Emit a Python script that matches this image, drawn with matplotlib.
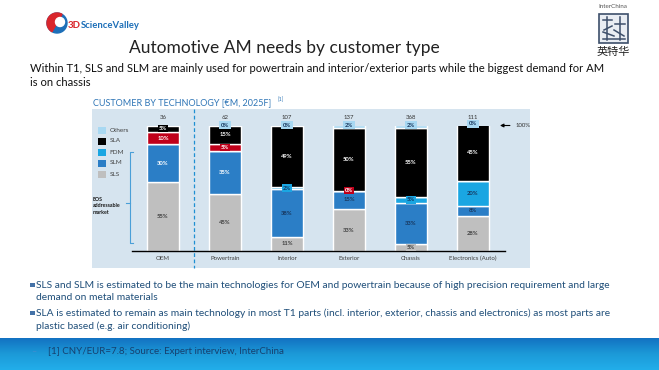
#!/usr/bin/env python3
"""Slide recreation: automotive AM demand split by customer type and technology."""

import numpy as np
import matplotlib
matplotlib.use('Agg')
import matplotlib.pyplot as plt
from matplotlib.patches import Rectangle, Circle, Wedge
from matplotlib.colors import LinearSegmentedColormap

# ---- data (share of each technology, %) ----
categories = ['OEM', 'Powertrain', 'Interior', 'Exterior', 'Chassis', 'Electronics (Auto)']
totals = [36, 62, 107, 137, 368, 111]          # market size, EUR m
sls = [55, 45, 11, 33, 5, 28]
slm = [30, 35, 38, 15, 33, 8]
fdm = [0, 0, 2, 0, 5, 20]
red_tech = [10, 5, 0, 0, 0, 0]                 # red segment, not in legend
sla = [5, 15, 49, 50, 55, 45]
others = [0, 0, 0, 2, 2, 0]
legend_labels = ['Others', 'SLA', 'FDM', 'SLM', 'SLS']

W, H = 659, 370
FONT = ['Lato', 'DejaVu Sans']
plt.rcParams['font.family'] = FONT

C_SLS = '#bfbfbf'
C_SLM = '#2b7ec6'
C_FDM = '#1aa6e2'
C_RED = '#c0001a'
C_SLA = '#000000'
C_OTH = '#a8d8f2'
NAVY = '#17365d'
TXT_BLUE = '#1f4e79'

fig = plt.figure(figsize=(W / 100, H / 100), dpi=100)
bg = fig.add_axes([0, 0, 1, 1])
bg.set_xlim(0, W)
bg.set_ylim(H, 0)
bg.axis('off')

# ---- header: logos and titles ----
bg.add_patch(Circle((57, 23), 10, color='#1d6fb8'))
bg.add_patch(Wedge((57, 23), 10, 120, 300, color='#d9262c'))
bg.add_patch(Circle((60, 22), 4.5, color='white'))
bg.text(67.5, 25, '3D', color='#d9262c', fontsize=7.0, fontweight='bold', va='center')
bg.text(80.5, 25, 'ScienceValley', color='#1d6fb8', fontsize=6.8, fontweight='bold', va='center')

bg.text(613, 6, 'InterChina', fontsize=4.5, color='#555555', ha='center', va='center')
bg.add_patch(Rectangle((599, 14), 29, 29, facecolor='#e9edf3', edgecolor='#3d4f6b', lw=1.2))
for xs, ys in [([603, 612], [20, 20]), ([607, 607], [17, 40]), ([615, 625], [24, 24]),
               ([620, 620], [17, 40]), ([603, 614], [32, 36]), ([603, 625], [39, 39]),
               ([614, 624], [30, 36]), ([612, 604], [26, 30])]:
    bg.plot(xs, ys, color='#3d4f6b', lw=1.1)
bg.text(613, 52, '英特华', fontsize=8, color='#222222', ha='center', va='center',
        family=['Noto Sans CJK SC', 'DejaVu Sans'])

bg.text(284, 48, 'Automotive AM needs by customer type', fontsize=12.5, color='#222222',
        ha='center', va='center')
bg.text(30, 68, 'Within T1, SLS and SLM are mainly used for powertrain and interior/exterior parts '
        'while the biggest demand for AM', fontsize=8.1, color='#111111', va='center')
bg.text(30, 83, 'is on chassis', fontsize=8.1, color='#111111', va='center')

# ---- chart panel ----
bg.add_patch(Rectangle((92, 109), 438, 159, facecolor='#d6e4ef', edgecolor='none'))
bg.text(93, 103, 'CUSTOMER BY TECHNOLOGY [€M, 2025F]', fontsize=6.5, color='#2e75b6', va='center')
bg.text(277, 100, '[1]', fontsize=3.8, color='#2e75b6', va='center')

# legend
for i, (lab, col) in enumerate(zip(legend_labels, [C_OTH, C_SLA, C_FDM, C_SLM, C_SLS])):
    y = 130 + i * 11
    bg.add_patch(Rectangle((97.5, y - 3.5), 8.5, 7, facecolor=col, edgecolor='none'))
    bg.text(109.5, y, lab, fontsize=4.6, color='#404040', va='center')

# EOS addressable market bracket
br = '#4a9fd8'
bg.plot([133, 130, 130, 133], [152, 152, 243, 243], color=br, lw=0.8)
bg.plot([126, 130], [203, 203], color=br, lw=0.8)
bg.text(93, 197, 'EOS\naddressable\nmarket', fontsize=3.8, fontweight='bold', color='#1a1a1a',
        va='top', linespacing=1.35)

# dashed separator between OEM and T1 parts
bg.plot([194, 194], [109, 268], color='#1e8fd2', lw=0.9, ls=(0, (3, 2)))

# ---- bullets ----
bullets = [
    ['SLS and SLM is estimated to be the main technologies for OEM and powertrain because of '
     'high precision requirement and large', 'demand on metal materials'],
    ['SLA is estimated to remain as main technology in most T1 parts (incl. interior, exterior, '
     'chassis and electronics) as most parts are', 'plastic based (e.g. air conditioning)'],
]
for i, lines in enumerate(bullets):
    y0 = 285 + i * 28
    bg.add_patch(Rectangle((30, y0 - 2.3), 4.5, 4.5, facecolor='#4472a8', edgecolor='none'))
    bg.text(36, y0, lines[0], fontsize=7.4, color=TXT_BLUE, va='center')
    bg.text(36, y0 + 13, lines[1], fontsize=7.4, color=TXT_BLUE, va='center')

# ---- footer band ----
grad = np.linspace(0, 1, 64).reshape(-1, 1)
cmap = LinearSegmentedColormap.from_list('band', ['#1372c2', '#1c9ad8', '#22aeea'])
bg.imshow(grad, cmap=cmap, extent=(0, W, 370, 338), aspect='auto', zorder=0)
bg.set_xlim(0, W)
bg.set_ylim(H, 0)
bg.text(31, 352, '–', fontsize=6.5, color='#3f8fd0', va='center')
bg.text(48, 352, '[1] CNY/EUR=7.8; Source: Expert interview, InterChina', fontsize=7.0,
        color='#16406e', va='center')

# ---- stacked bars ----
ax = fig.add_axes([132 / W, 1 - 250.7 / H, (505 - 132) / W, (250.7 - 125.5) / H])
ax.set_facecolor('none')
ax.set_xlim(-0.5, 5.516)
ax.set_ylim(0, 100)
x = np.arange(len(categories))
bw = 0.53

series = [
    ('SLS', sls, C_SLS, '#404040'),
    ('SLM', slm, C_SLM, None),
    ('FDM', fdm, C_FDM, NAVY),
    ('RED', red_tech, C_RED, 'white'),
    ('SLA', sla, C_SLA, 'white'),
    ('Others', others, C_OTH, NAVY),
]
slm_white = [True, True, False, False, False, False]
zero_labels = {('RED', 3), ('Others', 1), ('Others', 2), ('Others', 5)}

bottom = np.zeros(len(categories))
for name, vals, col, tcol in series:
    vals = np.array(vals, dtype=float)
    ax.bar(x, vals, bw, bottom=bottom, color=col, edgecolor='white', linewidth=1.0, zorder=2)
    for i, v in enumerate(vals):
        if v <= 0 and (name, i) not in zero_labels:
            continue
        c = tcol if tcol else ('white' if slm_white[i] else NAVY)
        yc = bottom[i] + v / 2
        box = None
        if name == 'Others':
            yc = bottom[i] + v + 0.3
            box = dict(boxstyle='square,pad=0.25', facecolor=C_OTH, edgecolor='none')
        elif v < 6:
            box = dict(boxstyle='square,pad=0.2', facecolor=col, edgecolor='none')
        ax.text(x[i], yc, f'{v:.0f}%', ha='center', va='center', fontsize=4.2, color=c,
                fontweight='bold', bbox=box, zorder=4, clip_on=False)
    bottom += vals

for i, t in enumerate(totals):
    ax.text(x[i], 106, str(t), ha='center', va='center', fontsize=4.3, color='#333333', clip_on=False)

ax.annotate('', xy=(5.39, 100), xytext=(5.64, 100), annotation_clip=False,
            arrowprops=dict(arrowstyle='-|>', color='black', lw=0.8, mutation_scale=5))
ax.text(5.68, 100, '100%', ha='left', va='center', fontsize=4.3, color='#333333', clip_on=False)

for s in ['top', 'right', 'left']:
    ax.spines[s].set_visible(False)
ax.spines['bottom'].set_color('black')
ax.spines['bottom'].set_linewidth(1.0)
ax.set_yticks([])
ax.set_xticks(x)
ax.set_xticklabels(categories, fontsize=4.4, color='#404040')
ax.tick_params(axis='x', length=0, pad=4)

fig.savefig('out.png', dpi=100)
